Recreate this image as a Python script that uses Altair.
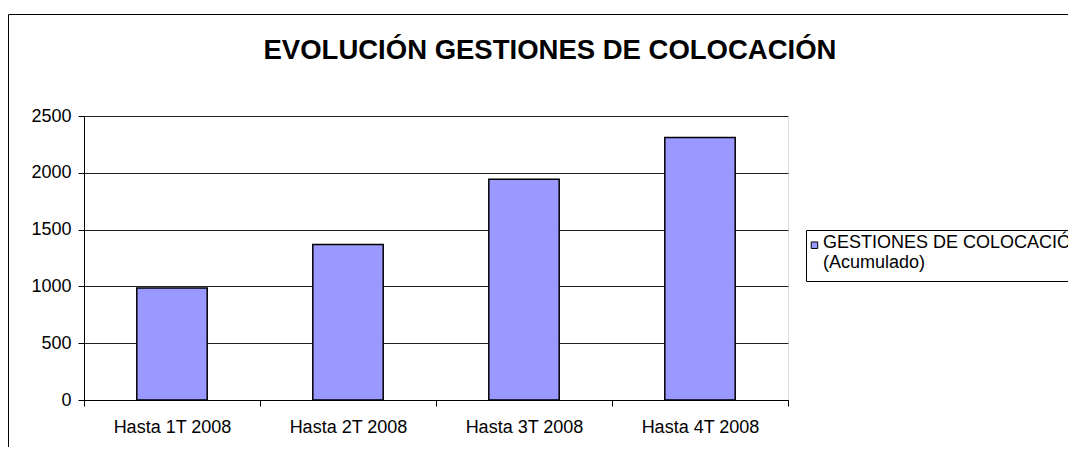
import altair as alt
import pandas as pd

# ---- data ----
categorias = ["Hasta 1T 2008", "Hasta 2T 2008", "Hasta 3T 2008", "Hasta 4T 2008"]
valores = [987, 1369, 1944, 2310]
serie = "GESTIONES DE COLOCACIÓN (Acumulado)"
y_ticks = [0, 500, 1000, 1500, 2000, 2500]
titulo = "EVOLUCIÓN GESTIONES DE COLOCACIÓN"

df = pd.DataFrame({"periodo": categorias, "valor": valores, "serie": [serie] * len(categorias)})
frame_df = pd.DataFrame({"k": [0]})

FONT = "Liberation Sans"

bars = alt.Chart(df).mark_bar(
    width=alt.RelativeBandSize(0.4), stroke="black", strokeWidth=1.5
).encode(
    x=alt.X(
        "periodo:N", sort=categorias, title=None,
        scale=alt.Scale(paddingInner=0, paddingOuter=0),
        axis=alt.Axis(
            labelAngle=0, tickBand="extent", tickSize=6, labelPadding=12,
            labelFontSize=18, labelFont=FONT, labelColor="black",
            labelBaseline="top", domainColor="black", tickColor="black",
            grid=False,
        ),
    ),
    y=alt.Y(
        "valor:Q", title=None,
        scale=alt.Scale(domain=[0, 2500], nice=False),
        axis=alt.Axis(
            values=y_ticks, format="d", tickSize=6, labelPadding=7, labelFontSize=18,
            labelFont=FONT, labelColor="black", domainColor="black",
            tickColor="black", grid=True, gridColor="#222222", gridWidth=1,
        ),
    ),
    color=alt.Color(
        "serie:N",
        scale=alt.Scale(range=["#9999FF"]),
        legend=alt.Legend(
            title=None, orient="none", legendX=722, legendY=114,
            padding=9, strokeColor="black", fillColor="white",
            symbolType="M-0.857,-1.857L1.143,-1.857L1.143,0.143L-0.857,0.143Z",
            symbolSize=42, symbolStrokeColor="black", symbolOffset=-10,
            symbolStrokeWidth=1, labelFont=FONT, labelFontSize=18,
            labelColor="black", labelLimit=400, labelOffset=0,
            labelBaseline="alphabetic",
            labelExpr="[slice(datum.label, 0, 23), slice(datum.label, 24)]",
        ),
    ),
)

left_line = alt.Chart(frame_df).mark_rule(color="black", strokeWidth=1, clip=False).encode(
    x=alt.value(-75.5), y=alt.value(-101.5), y2=alt.value(331)
)
top_line = alt.Chart(frame_df).mark_rule(color="black", strokeWidth=1, clip=False).encode(
    x=alt.value(-75.5), x2=alt.value(984), y=alt.value(-101.5)
)

chart = alt.layer(bars, left_line, top_line).properties(
    width=704, height=284,
    title=alt.Title(
        titulo, font=FONT, fontSize=27.5, fontWeight="bold", color="black",
        anchor="middle", baseline="alphabetic", offset=0, dx=114, dy=72,
    ),
    autosize=alt.AutoSizeParams(type="none"),
    padding={"left": 76, "top": 108, "right": 280, "bottom": 47},
).configure_view(
    fill="#C0C0C0", stroke="#808080", strokeWidth=1
).configure(background="white")

chart.save("out.html", embed_options={"renderer": "svg", "actions": False})
